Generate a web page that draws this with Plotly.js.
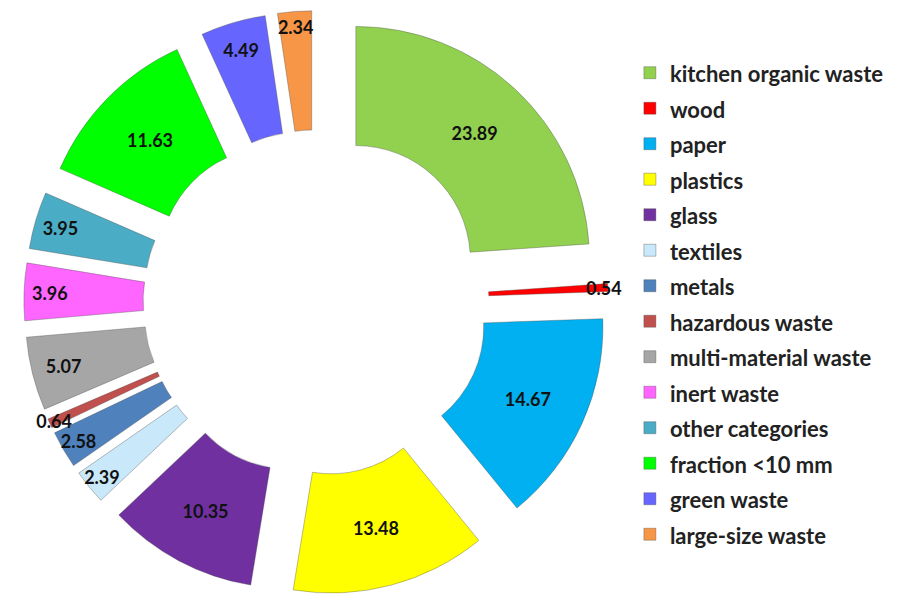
<!DOCTYPE html>
<html>
<head>
<meta charset="utf-8">
<script src="https://cdn.plot.ly/plotly-3.0.1.min.js"></script>
<style>html,body{margin:0;padding:0;background:#fff;}#chart{width:905px;height:595px;}</style>
</head>
<body>
<div id="chart"></div>
<script>
const categories = ["kitchen organic waste", "wood", "paper", "plastics", "glass", "textiles", "metals", "hazardous waste", "multi-material waste", "inert waste", "other categories", "fraction <10 mm", "green waste", "large-size waste"];
const values = [23.89, 0.54, 14.67, 13.48, 10.35, 2.39, 2.58, 0.64, 5.07, 3.96, 3.95, 11.63, 4.49, 2.34];
const colors = ["#92D050", "#FF0000", "#00B0F0", "#FFFF00", "#7030A0", "#C9E9FA", "#4F81BD", "#C0504D", "#A6A6A6", "#FF66FF", "#4BACC6", "#00FF00", "#6666FF", "#F79646"];

const legendLabels = categories.map(c => '<span style="font-size:22px">' + c.replace('<', '&lt;') + '</span>');

const trace = {
  type: 'pie',
  labels: legendLabels,
  values: values,
  sort: false,
  direction: 'clockwise',
  rotation: 0,
  hole: 0.49,
  pull: 0.25,
  marker: {colors: colors, line: {color: 'rgba(70,70,70,0.6)', width: 0.6}},
  textinfo: 'value',
  texttemplate: '%{value:.2f}',
  textposition: 'inside',
  insidetextorientation: 'horizontal',
  textfont: {family: 'Lato, "Open Sans", sans-serif', size: 18, color: '#111', weight: 'bold'},
  domain: {x: [0.0243, 0.674], y: [0, 0.982]},
  hoverinfo: 'label+value'
};

const layout = {
  width: 905, height: 595,
  margin: {l: 0, r: 0, t: 0, b: 0},
  paper_bgcolor: '#fff',
  showlegend: true,
  uniformtext: {mode: 'show', minsize: 18},
  legend: {
    x: 0.696, y: 0.916, xanchor: 'left', yanchor: 'top',
    font: {family: 'Lato, "Open Sans", sans-serif', size: 25, color: '#222', weight: 'bold'},
    traceorder: 'normal'
  }
};

Plotly.newPlot('chart', [trace], layout, {staticPlot: true});
</script>
</body>
</html>
